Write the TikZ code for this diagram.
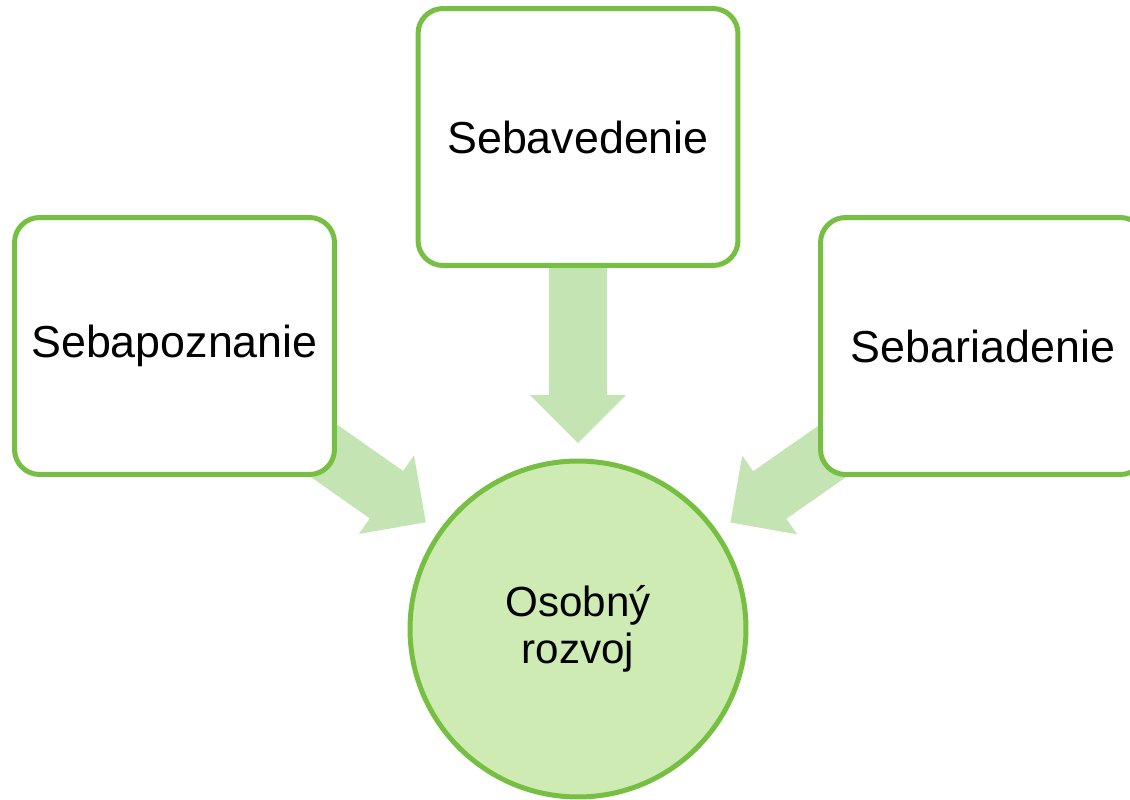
\documentclass[tikz,border=0pt]{standalone}
\usepackage{fontspec}
\setmainfont{Liberation Sans}
\usetikzlibrary{calc,backgrounds}
\definecolor{gline}{HTML}{77BF42}
\definecolor{cfill}{HTML}{CDEBB3}
\definecolor{afill}{HTML}{C4E5B3}
\newcommand\blockarrow[2]{%
  \pgfmathanglebetweenpoints{\pgfpointanchor{#2}{center}}{\pgfpointanchor{#1}{center}}%
  \let\arrang\pgfmathresult
  \begin{scope}[shift={($(#2.center)!3.72cm!(#1.center)$)}, rotate=\arrang]
    \fill[afill] (0,0) -- (48,48) -- (48,29) -- (300,29) -- (300,-29) -- (48,-29) -- (48,-48) -- cycle;
  \end{scope}}
\tikzset{
  box/.style={draw=gline, line width=0.1cm, fill=white, rounded corners=0.5cm,
    minimum width=6.4cm, minimum height=5.14cm, inner sep=0pt,
    font=\fontsize{25.5}{26}\selectfont},
  goal/.style={circle, draw=gline, line width=0.1cm, fill=cfill, minimum size=6.72cm,
    inner sep=0pt, align=center, font=\fontsize{24}{26.5}\selectfont}
}
\begin{document}
\begin{tikzpicture}[x=0.02cm, y=0.02cm]
\clip (0,0) rectangle (1130,799);
\node[box] (T) at (578,662) {Sebavedenie};
\node[box] (L) at (174.5,453) {Sebapoznanie};
\node[box, minimum width=6.5cm] (R) at (983,453) {Sebariadenie};
\node[goal] (C) at (578,170) {Osobný\\rozvoj};
\begin{pgfonlayer}{background}
  \blockarrow{T}{C}
  \blockarrow{L}{C}
  \blockarrow{R}{C}
\end{pgfonlayer}
\end{tikzpicture}
\end{document}
